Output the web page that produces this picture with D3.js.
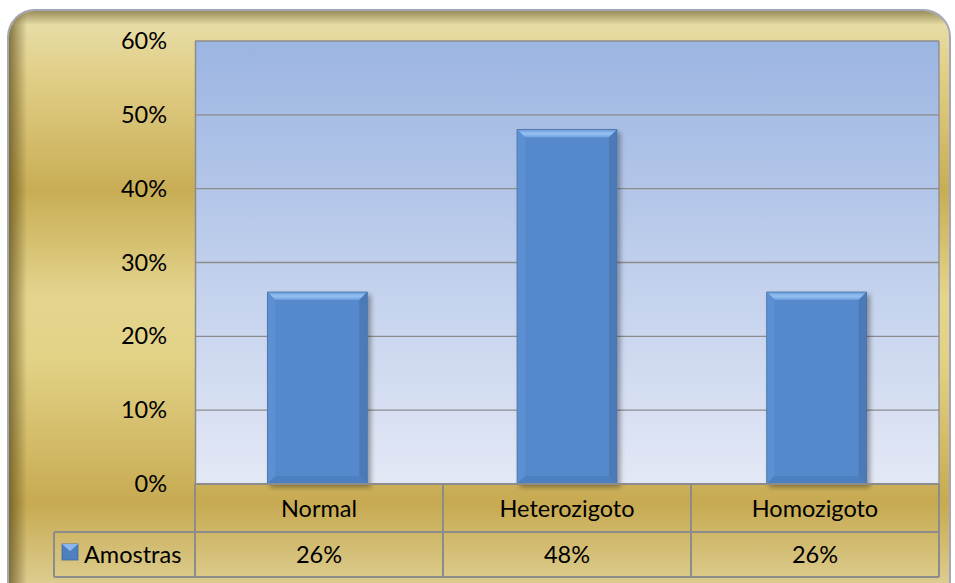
<!DOCTYPE html>
<html><head><meta charset="utf-8">
<script src="https://cdn.jsdelivr.net/npm/d3@7"></script>
<style>html,body{margin:0;padding:0;background:#fff;overflow:hidden}</style>
</head><body>
<svg id="c" width="955" height="583"></svg>
<script>
const categories = ["Normal", "Heterozigoto", "Homozigoto"];
const seriesName = "Amostras";
const values = [0.26, 0.48, 0.26];
const valueLabels = ["26%", "48%", "26%"];
const yTicks = [0, 0.1, 0.2, 0.3, 0.4, 0.5, 0.6];

const svg = d3.select("#c");
const defs = svg.append("defs");
const FONT = "Lato, 'Open Sans', sans-serif";
const FS = 23.5;

// frame gradient (brass)
const g1 = defs.append("linearGradient").attr("id","gold").attr("x1",0).attr("y1",0).attr("x2",0).attr("y2",1);
[[0,"#e8e0ae"],[0.1,"#e2d08a"],[0.3,"#c8ad55"],[0.48,"#e4d58e"],[0.58,"#e2d286"],[0.82,"#c7aa52"],[1,"#e4d9a4"]]
  .forEach(([o,c])=>g1.append("stop").attr("offset",o).attr("stop-color",c));
const gl = defs.append("linearGradient").attr("id","lshade").attr("x1",0).attr("y1",0).attr("x2",1).attr("y2",0);
gl.append("stop").attr("offset",0).attr("stop-color","#5a4a18").attr("stop-opacity",0.7);
gl.append("stop").attr("offset",1).attr("stop-color","#5a4a18").attr("stop-opacity",0);
const gt = defs.append("linearGradient").attr("id","tshade").attr("x1",0).attr("y1",0).attr("x2",0).attr("y2",1);
gt.append("stop").attr("offset",0).attr("stop-color","#5a4a18").attr("stop-opacity",0.55);
gt.append("stop").attr("offset",1).attr("stop-color","#5a4a18").attr("stop-opacity",0);
// plot gradient
const g2 = defs.append("linearGradient").attr("id","plotbg").attr("x1",0).attr("y1",0).attr("x2",0).attr("y2",1);
g2.append("stop").attr("offset",0).attr("stop-color","#9bb5e2");
g2.append("stop").attr("offset",1).attr("stop-color","#e3e8f5");
defs.append("clipPath").attr("id","fclip").append("rect")
  .attr("x",9).attr("y",11).attr("width",940).attr("height",600).attr("rx",26);
const sh = defs.append("filter").attr("id","bshadow").attr("x","-20%").attr("y","-20%").attr("width","150%").attr("height","150%");
sh.append("feGaussianBlur").attr("in","SourceAlpha").attr("stdDeviation",2.5);
sh.append("feOffset").attr("dx",3).attr("dy",3).attr("result","b");
sh.append("feComponentTransfer").append("feFuncA").attr("type","linear").attr("slope",0.35);
const mg = sh.append("feMerge"); mg.append("feMergeNode"); mg.append("feMergeNode").attr("in","SourceGraphic");
// bar top highlight gradient
const gh = defs.append("linearGradient").attr("id","btop").attr("x1",0).attr("y1",0).attr("x2",0).attr("y2",1);
gh.append("stop").attr("offset",0).attr("stop-color","#6d9ad6");
gh.append("stop").attr("offset",0.5).attr("stop-color","#96c2f4");
gh.append("stop").attr("offset",1).attr("stop-color","#6c9cdc");

// frame
svg.append("rect").attr("x",8).attr("y",10).attr("width",942).attr("height",602).attr("rx",27)
  .attr("fill","url(#gold)").attr("stroke","#a3a6b4").attr("stroke-width",2);
const fg = svg.append("g").attr("clip-path","url(#fclip)");
fg.append("rect").attr("x",9).attr("y",11).attr("width",18).attr("height",600).attr("fill","url(#lshade)");
fg.append("rect").attr("x",9).attr("y",11).attr("width",940).attr("height",14).attr("fill","url(#tshade)");

// plot area
const L = 195, R = 939, T = 41, B = 484;
const x = d3.scaleBand().domain(categories).range([L, R]).paddingInner(0.6).paddingOuter(0.29);
const y = d3.scaleLinear().domain([0, 0.6]).range([B, T]);
const xCell = d3.scaleBand().domain(categories).range([L, R]);

svg.append("rect").attr("x",L).attr("y",T).attr("width",R-L).attr("height",B-T).attr("fill","url(#plotbg)");
svg.append("g").selectAll("line").data(yTicks.filter(d=>d>0)).join("line")
  .attr("x1",L).attr("x2",R).attr("y1",d=>y(d)).attr("y2",d=>y(d))
  .attr("stroke","#8c8c8c").attr("stroke-width",1.3);
svg.append("line").attr("x1",R).attr("x2",R).attr("y1",T).attr("y2",B).attr("stroke","#8c8c8c").attr("stroke-width",1.3);

// y axis labels
const yAxis = d3.axisLeft(y).tickValues(yTicks).tickFormat(d3.format(".0%")).tickSize(0).tickPadding(28);
const ya = svg.append("g").attr("transform",`translate(${L},0)`).call(yAxis);
ya.select(".domain").attr("stroke","#8c8c8c").attr("stroke-width",1.5);
ya.selectAll("text").attr("font-family",FONT).attr("font-size",FS).attr("fill","#000");

// bars
const bw = x.bandwidth(), bv = 8;
const bars = svg.append("g").selectAll("g").data(categories).join("g").attr("filter","url(#bshadow)");
bars.each(function(c,i){
  const g = d3.select(this);
  const x0 = x(c), y0 = y(values[i]), x1 = x0+bw, y1 = y(0);
  g.append("rect").attr("x",x0).attr("y",y0).attr("width",bw).attr("height",y1-y0).attr("fill","#5689cb");
  g.append("path").attr("d",`M${x0},${y0}L${x1},${y0}L${x1-bv},${y0+bv}L${x0+bv},${y0+bv}Z`).attr("fill","url(#btop)");
  g.append("path").attr("d",`M${x0},${y0}L${x0+bv},${y0+bv}L${x0+bv},${y1-bv}L${x0},${y1}Z`).attr("fill","#5b90d2");
  g.append("path").attr("d",`M${x1},${y0}L${x1-bv},${y0+bv}L${x1-bv},${y1-bv}L${x1},${y1}Z`).attr("fill","#4b7ab7");
  g.append("path").attr("d",`M${x0},${y1}L${x0+bv},${y1-bv}L${x1-bv},${y1-bv}L${x1},${y1}Z`).attr("fill","#4e80c0");
  g.append("rect").attr("x",x0).attr("y",y0).attr("width",bw).attr("height",y1-y0).attr("fill","none").attr("stroke","#4a72a8").attr("stroke-width",0.8);
});

// data table
const r1 = 532, r2 = 577, LL = 54;
const tl = svg.append("g").attr("stroke","#8c8c8c").attr("stroke-width",2);
tl.append("line").attr("x1",L).attr("x2",R).attr("y1",B).attr("y2",B);
tl.append("line").attr("x1",LL).attr("x2",R).attr("y1",r1).attr("y2",r1);
tl.append("line").attr("x1",LL).attr("x2",R).attr("y1",r2).attr("y2",r2);
tl.append("line").attr("x1",LL).attr("x2",LL).attr("y1",r1).attr("y2",r2);
tl.append("line").attr("x1",L).attr("x2",L).attr("y1",B).attr("y2",r2);
tl.selectAll(".v").data(categories).join("line")
  .attr("x1",d=>xCell(d)+xCell.bandwidth()).attr("x2",d=>xCell(d)+xCell.bandwidth()).attr("y1",B).attr("y2",r2);

svg.append("g").selectAll("text").data(categories).join("text")
  .attr("x",d=>xCell(d)+xCell.bandwidth()/2).attr("y",517).attr("text-anchor","middle")
  .attr("font-family",FONT).attr("font-size",FS).attr("fill","#000").text(d=>d);
svg.append("g").selectAll("text").data(valueLabels).join("text")
  .attr("x",(d,i)=>xCell(categories[i])+xCell.bandwidth()/2).attr("y",563).attr("text-anchor","middle")
  .attr("font-family",FONT).attr("font-size",FS).attr("fill","#000").text(d=>d);

// legend key
const kx=62, ky=544, ks=16;
svg.append("rect").attr("x",kx).attr("y",ky).attr("width",ks).attr("height",ks).attr("fill","#4f7fbe").attr("stroke","#3e6aa3").attr("stroke-width",0.8);
svg.append("path").attr("d",`M${kx},${ky}L${kx+ks},${ky}L${kx+ks/2},${ky+ks*0.45}Z`).attr("fill","#8bb7ec");
svg.append("text").attr("x",84).attr("y",563).attr("font-family",FONT).attr("font-size",FS).attr("fill","#000").text(seriesName);
</script>
</body></html>
